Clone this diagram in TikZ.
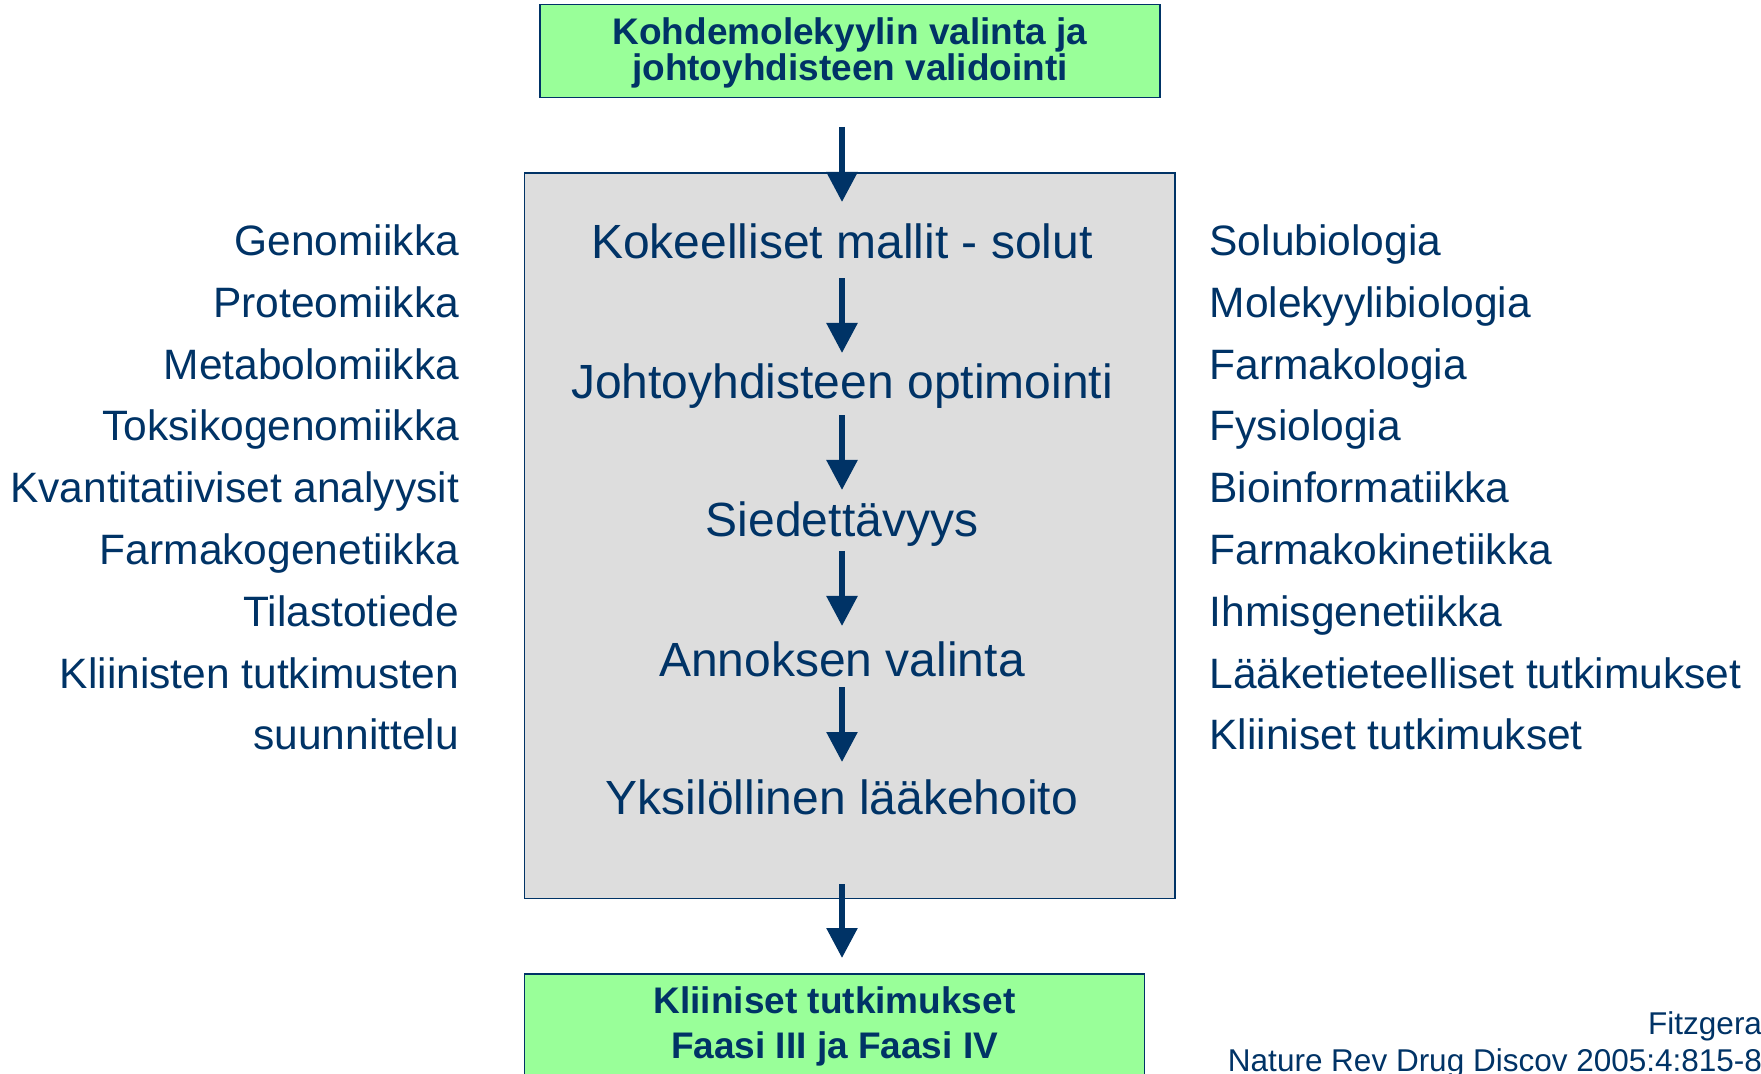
\documentclass[tikz,border=0pt]{standalone}
\usepackage{fontspec}
\setmainfont{Liberation Sans}
\usetikzlibrary{arrows.meta}
\definecolor{navy}{RGB}{0,51,102}
\definecolor{boxgreen}{RGB}{153,255,153}
\definecolor{boxgray}{RGB}{221,221,221}
\begin{document}
\begin{tikzpicture}[x=0.5pt,y=-0.5pt,
  every node/.style={text=navy, inner sep=0pt, outer sep=0pt},
  greenbox/.style={draw=navy, line width=0.7pt, fill=boxgreen},
  graybox/.style={draw=navy, line width=0.7pt, fill=boxgray},
  boldtxt/.style={font=\fontsize{18.5}{18}\selectfont\bfseries, align=center},
  maintxt/.style={font=\fontsize{24}{28}\selectfont, anchor=base},
  lefttxt/.style={font=\fontsize{21.25}{25}\selectfont, anchor=base east},
  righttxt/.style={font=\fontsize{21.25}{25}\selectfont, anchor=base west},
  citetxt/.style={font=\fontsize{15.75}{18}\selectfont, anchor=base east},
  arr/.style={draw=navy, line width=2.85pt, -{Triangle[length=15pt,width=15pt]}}]
\useasboundingbox (0,0) rectangle (1761,1074);
\fill[white] (0,0) rectangle (1761,1074);
% boxes
\node[greenbox, anchor=north west, minimum width=310pt, minimum height=46.6pt] (top) at (540,4.5) {};
\node[boldtxt] (toptxt) at (850,53.4) {Kohdemolekyylin valinta ja\\johtoyhdisteen validointi};
\node[graybox, anchor=north west, minimum width=325.25pt, minimum height=362.75pt] (main) at (524.5,173) {};
\node[greenbox, anchor=north west, minimum width=310pt, minimum height=60pt] (bot) at (524.5,974) {};
\node[boldtxt] (bottxt) at (834.5,1026.4) {Kliiniset tutkimukset\\[4.5pt]Faasi III ja Faasi IV};
% main steps
\node[maintxt] (s1) at (842,258.7) {Kokeelliset mallit - solut};
\node[maintxt] (s2) at (842,399) {Johtoyhdisteen optimointi};
\node[maintxt] (s3) at (842,537) {Siedettävyys};
\node[maintxt] (s4) at (842,676) {Annoksen valinta};
\node[maintxt] (s5) at (842,814.5) {Yksilöllinen lääkehoito};
% arrow ends
\coordinate (a0s) at (842,127);   \coordinate (a0e) at (842,202);
\coordinate (a1s) at (842,278.5); \coordinate (a1e) at (842,353);
\coordinate (a2s) at (842,415.5); \coordinate (a2e) at (842,490);
\coordinate (a3s) at (842,551);   \coordinate (a3e) at (842,626);
\coordinate (a4s) at (842,687);   \coordinate (a4e) at (842,762);
\coordinate (a5s) at (842,884);   \coordinate (a5e) at (842,958);
\draw[arr] (a0s) -- (a0e);
\draw[arr] (a1s) -- (a1e);
\draw[arr] (a2s) -- (a2e);
\draw[arr] (a3s) -- (a3e);
\draw[arr] (a4s) -- (a4e);
\draw[arr] (a5s) -- (a5e);
% left list
\node[lefttxt] (l1) at (459,255.5) {Genomiikka};
\node[lefttxt] (l2) at (459,317.3) {Proteomiikka};
\node[lefttxt] (l3) at (459,379.1) {Metabolomiikka};
\node[lefttxt] (l4) at (459,440.9) {Toksikogenomiikka};
\node[lefttxt] (l5) at (459,502.7) {Kvantitatiiviset analyysit};
\node[lefttxt] (l6) at (459,564.5) {Farmakogenetiikka};
\node[lefttxt] (l7) at (459,626.3) {Tilastotiede};
\node[lefttxt] (l8) at (459,688.1) {Kliinisten tutkimusten};
\node[lefttxt] (l9) at (459,749.9) {suunnittelu};
% right list
\node[righttxt] (r1) at (1209.6,255.5) {Solubiologia};
\node[righttxt] (r2) at (1209.6,317.3) {Molekyylibiologia};
\node[righttxt] (r3) at (1209.6,379.1) {Farmakologia};
\node[righttxt] (r4) at (1209.6,440.9) {Fysiologia};
\node[righttxt] (r5) at (1209.6,502.7) {Bioinformatiikka};
\node[righttxt] (r6) at (1209.6,564.5) {Farmakokinetiikka};
\node[righttxt] (r7) at (1209.6,626.3) {Ihmisgenetiikka};
\node[righttxt] (r8) at (1209.6,688.1) {Lääketieteelliset tutkimukset};
\node[righttxt] (r9) at (1209.6,749.9) {Kliiniset tutkimukset};
% citation
\node[citetxt] (c1) at (1762,1034) {Fitzgera};
\node[citetxt] (c2) at (1762,1071) {Nature Rev Drug Discov 2005:4:815-8};
\end{tikzpicture}
\end{document}
